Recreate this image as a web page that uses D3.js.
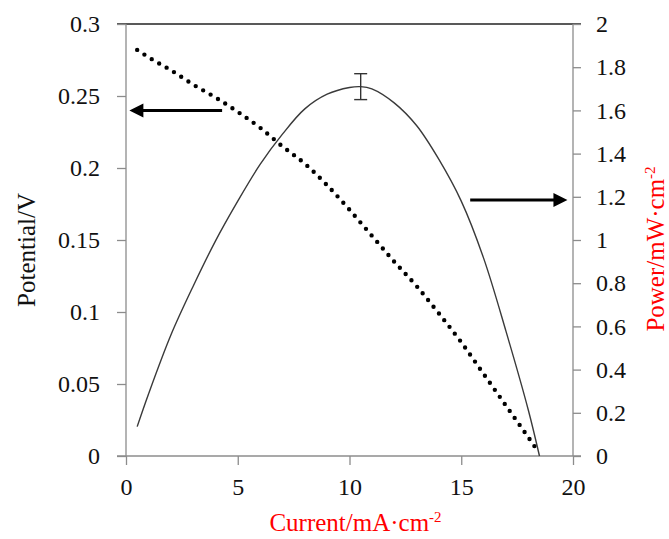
<!DOCTYPE html>
<html>
<head>
<meta charset="utf-8">
<script src="https://cdn.jsdelivr.net/npm/d3@7"></script>
<style>
  body { margin: 0; background: #fff; }
</style>
</head>
<body>
<svg id="chart" width="669" height="539"></svg>
<script>
// Values
var current = [0.5, 1, 2, 3, 4, 5, 6, 7, 8, 9, 10, 10.5, 11, 12, 13, 14, 15, 16, 17, 18, 18.4];
var potential = [0.282, 0.277, 0.268, 0.258, 0.249, 0.239, 0.228, 0.215, 0.203, 0.188, 0.171, 0.162, 0.153, 0.135, 0.118, 0.099, 0.079, 0.057, 0.035, 0.013, 0.004];
var powerCurrent = [0.5, 1, 2, 3, 4, 5, 6, 7, 8, 9, 10, 10.5, 11, 12, 13, 14, 15, 16, 17, 18, 18.5];
var power = [0.136, 0.285, 0.558, 0.785, 0.995, 1.18, 1.35, 1.49, 1.607, 1.675, 1.706, 1.71, 1.70, 1.635, 1.53, 1.373, 1.18, 0.916, 0.578, 0.213, 0];

// error bar on the peak power point
var errCurrent = 10.5, errPower = 1.71, errSize = 0.06;

var xTicks = [0, 5, 10, 15, 20];
var vTicks = [0, 0.05, 0.1, 0.15, 0.2, 0.25, 0.3];
var pTicks = [0, 0.2, 0.4, 0.6, 0.8, 1, 1.2, 1.4, 1.6, 1.8, 2];

// arrow annotations: [current, value] on the matching axis
var arrowV = [[4.3, 0.24], [0.15, 0.24]];
var arrowP = [[15.4, 1.185], [19.75, 1.185]];

var serif = "'Liberation Serif', 'Times New Roman', serif";

var svg = d3.select("#chart"),
    margin = { top: 24, right: 96, bottom: 83, left: 126 },
    width = +svg.attr("width") - margin.left - margin.right,
    height = +svg.attr("height") - margin.top - margin.bottom;

var x = d3.scaleLinear().domain([0, 20]).range([0, width]);
var yV = d3.scaleLinear().domain([0, 0.3]).range([height, 0]);
var yP = d3.scaleLinear().domain([0, 2]).range([height, 0]);

var g = svg.append("g")
    .attr("transform", "translate(" + margin.left + "," + margin.top + ")");

var axisColor = "#8c8c8c";

// top border
g.append("line")
    .attr("x1", -9).attr("x2", width + 8)
    .attr("y1", 0).attr("y2", 0)
    .attr("stroke", "#222").attr("stroke-width", 1.3);

function styleAxis(sel) {
    sel.attr("font-family", serif);
    sel.select(".domain").remove();
    sel.selectAll(".tick line").attr("stroke", axisColor).attr("stroke-width", 1.3);
    sel.selectAll(".tick text")
        .attr("fill", "#111")
        .style("font-family", serif)
        .style("font-size", "24px");
}

// left axis
g.append("g")
    .call(d3.axisLeft(yV).tickValues(vTicks).tickSize(9).tickPadding(17).tickFormat(d3.format("")))
    .call(styleAxis);
g.append("line")
    .attr("x1", 0).attr("x2", 0).attr("y1", 0).attr("y2", height)
    .attr("stroke", axisColor).attr("stroke-width", 1.3);

// right axis
g.append("g")
    .attr("transform", "translate(" + width + ",0)")
    .call(d3.axisRight(yP).tickValues(pTicks).tickSize(8).tickPadding(15).tickFormat(d3.format("")))
    .call(styleAxis);
g.append("line")
    .attr("x1", width).attr("x2", width).attr("y1", 0).attr("y2", height)
    .attr("stroke", axisColor).attr("stroke-width", 1.3);

// bottom axis
g.append("g")
    .attr("transform", "translate(0," + height + ")")
    .call(d3.axisBottom(x).tickValues(xTicks).tickSize(9).tickPadding(13).tickFormat(d3.format("d")))
    .call(styleAxis);
g.append("line")
    .attr("x1", -9).attr("x2", width + 8).attr("y1", height).attr("y2", height)
    .attr("stroke", axisColor).attr("stroke-width", 1.3);

// power curve (smooth solid line)
var powerLine = d3.line()
    .x(function (d, i) { return x(powerCurrent[i]); })
    .y(function (d) { return yP(d); })
    .curve(d3.curveCatmullRom.alpha(0.5));

g.append("path")
    .datum(power)
    .attr("fill", "none")
    .attr("stroke", "#3a3a3a")
    .attr("stroke-width", 1.4)
    .attr("d", powerLine);

// potential curve (round dots)
var potLine = d3.line()
    .x(function (d, i) { return x(current[i]); })
    .y(function (d) { return yV(d); })
    .curve(d3.curveMonotoneX);

g.append("path")
    .datum(potential)
    .attr("fill", "none")
    .attr("stroke", "#000")
    .attr("stroke-width", 4.4)
    .attr("stroke-linecap", "round")
    .attr("stroke-dasharray", "0,8.6")
    .attr("d", potLine);

// error bar
var eb = g.append("g").attr("stroke", "#333").attr("stroke-width", 1.4);
eb.append("line")
    .attr("x1", x(errCurrent)).attr("x2", x(errCurrent))
    .attr("y1", yP(errPower + errSize)).attr("y2", yP(errPower - errSize));
[errPower + errSize, errPower - errSize].forEach(function (v) {
    eb.append("line")
        .attr("x1", x(errCurrent) - 6.5).attr("x2", x(errCurrent) + 6.5)
        .attr("y1", yP(v)).attr("y2", yP(v));
});

// arrows
function drawArrow(pts, yScale) {
    var x0 = x(pts[0][0]), y0 = yScale(pts[0][1]);
    var x1 = x(pts[1][0]), y1 = yScale(pts[1][1]);
    var dir = x1 > x0 ? 1 : -1;
    var headLen = 14, headHalf = 7;
    g.append("line")
        .attr("x1", x0).attr("y1", y0)
        .attr("x2", x1 - dir * headLen + dir).attr("y2", y1)
        .attr("stroke", "#000").attr("stroke-width", 3);
    g.append("path")
        .attr("d", "M" + x1 + "," + y1 +
            "L" + (x1 - dir * headLen) + "," + (y1 - headHalf) +
            "L" + (x1 - dir * headLen) + "," + (y1 + headHalf) + "Z")
        .attr("fill", "#000");
}
drawArrow(arrowV, yV);
drawArrow(arrowP, yP);

// axis titles
var xt = svg.append("text")
    .attr("x", margin.left + width / 2 + 6)
    .attr("y", 531)
    .attr("text-anchor", "middle")
    .attr("fill", "#ff0000")
    .style("font-family", serif)
    .style("font-size", "25px");
xt.append("tspan").text("Current/mA\u00b7cm");
xt.append("tspan").attr("dy", -9).style("font-size", "15px").text("-2");

svg.append("text")
    .attr("transform", "translate(35,250) rotate(-90)")
    .attr("text-anchor", "middle")
    .attr("fill", "#111")
    .style("font-family", serif)
    .style("font-size", "25px")
    .text("Potential/V");

var yt = svg.append("text")
    .attr("transform", "translate(664,249) rotate(-90)")
    .attr("text-anchor", "middle")
    .attr("fill", "#ff0000")
    .style("font-family", serif)
    .style("font-size", "25px");
yt.append("tspan").text("Power/mW\u00b7cm");
yt.append("tspan").attr("dy", -9).style("font-size", "15px").text("-2");
</script>
</body>
</html>
